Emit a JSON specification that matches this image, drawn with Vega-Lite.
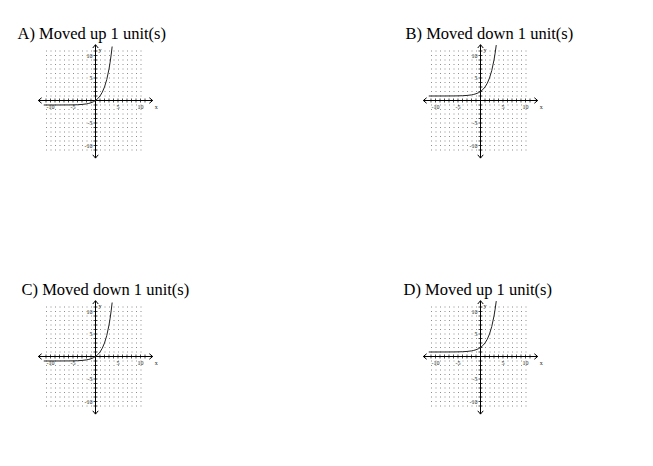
{
  "$schema": "https://vega.github.io/schema/vega-lite/v6.json",
  "padding": {"left": 17, "top": 26, "right": 0, "bottom": 0},
  "config": {
    "view": {"stroke": null},
    "mark": {"color": "#000"},
    "title": {"font": "Liberation Serif", "fontSize": 16.5, "fontWeight": "normal", "color": "#000"},
    "text": {"font": "Liberation Serif", "fontSize": 6, "fill": "#222"}
  },
  "datasets": {
    "curve": [
      {"panel": "A", "x": -11.5, "y": -1.0}, {"panel": "A", "x": -8, "y": -0.996}, {"panel": "A", "x": -6, "y": -0.984},
      {"panel": "A", "x": -5, "y": -0.969}, {"panel": "A", "x": -4, "y": -0.938}, {"panel": "A", "x": -3, "y": -0.875},
      {"panel": "A", "x": -2, "y": -0.75}, {"panel": "A", "x": -1.5, "y": -0.646}, {"panel": "A", "x": -1, "y": -0.5},
      {"panel": "A", "x": -0.5, "y": -0.293}, {"panel": "A", "x": 0, "y": 0}, {"panel": "A", "x": 0.5, "y": 0.414},
      {"panel": "A", "x": 1, "y": 1}, {"panel": "A", "x": 1.5, "y": 1.828}, {"panel": "A", "x": 2, "y": 3},
      {"panel": "A", "x": 2.5, "y": 4.657}, {"panel": "A", "x": 3, "y": 7}, {"panel": "A", "x": 3.25, "y": 8.514},
      {"panel": "A", "x": 3.5, "y": 10.314}, {"panel": "A", "x": 3.7, "y": 11.996},
      {"panel": "B", "x": -11.5, "y": 1.0}, {"panel": "B", "x": -8, "y": 1.004}, {"panel": "B", "x": -6, "y": 1.016},
      {"panel": "B", "x": -5, "y": 1.031}, {"panel": "B", "x": -4, "y": 1.063}, {"panel": "B", "x": -3, "y": 1.125},
      {"panel": "B", "x": -2, "y": 1.25}, {"panel": "B", "x": -1.5, "y": 1.354}, {"panel": "B", "x": -1, "y": 1.5},
      {"panel": "B", "x": -0.5, "y": 1.707}, {"panel": "B", "x": 0, "y": 2}, {"panel": "B", "x": 0.5, "y": 2.414},
      {"panel": "B", "x": 1, "y": 3}, {"panel": "B", "x": 1.5, "y": 3.828}, {"panel": "B", "x": 2, "y": 5},
      {"panel": "B", "x": 2.5, "y": 6.657}, {"panel": "B", "x": 3, "y": 9}, {"panel": "B", "x": 3.25, "y": 10.514},
      {"panel": "B", "x": 3.5, "y": 12.314},
      {"panel": "C", "x": -11.5, "y": -1.0}, {"panel": "C", "x": -8, "y": -0.996}, {"panel": "C", "x": -6, "y": -0.984},
      {"panel": "C", "x": -5, "y": -0.969}, {"panel": "C", "x": -4, "y": -0.938}, {"panel": "C", "x": -3, "y": -0.875},
      {"panel": "C", "x": -2, "y": -0.75}, {"panel": "C", "x": -1.5, "y": -0.646}, {"panel": "C", "x": -1, "y": -0.5},
      {"panel": "C", "x": -0.5, "y": -0.293}, {"panel": "C", "x": 0, "y": 0}, {"panel": "C", "x": 0.5, "y": 0.414},
      {"panel": "C", "x": 1, "y": 1}, {"panel": "C", "x": 1.5, "y": 1.828}, {"panel": "C", "x": 2, "y": 3},
      {"panel": "C", "x": 2.5, "y": 4.657}, {"panel": "C", "x": 3, "y": 7}, {"panel": "C", "x": 3.25, "y": 8.514},
      {"panel": "C", "x": 3.5, "y": 10.314}, {"panel": "C", "x": 3.7, "y": 11.996},
      {"panel": "D", "x": -11.5, "y": 1.0}, {"panel": "D", "x": -8, "y": 1.004}, {"panel": "D", "x": -6, "y": 1.016},
      {"panel": "D", "x": -5, "y": 1.031}, {"panel": "D", "x": -4, "y": 1.063}, {"panel": "D", "x": -3, "y": 1.125},
      {"panel": "D", "x": -2, "y": 1.25}, {"panel": "D", "x": -1.5, "y": 1.354}, {"panel": "D", "x": -1, "y": 1.5},
      {"panel": "D", "x": -0.5, "y": 1.707}, {"panel": "D", "x": 0, "y": 2}, {"panel": "D", "x": 0.5, "y": 2.414},
      {"panel": "D", "x": 1, "y": 3}, {"panel": "D", "x": 1.5, "y": 3.828}, {"panel": "D", "x": 2, "y": 5},
      {"panel": "D", "x": 2.5, "y": 6.657}, {"panel": "D", "x": 3, "y": 9}, {"panel": "D", "x": 3.25, "y": 10.514},
      {"panel": "D", "x": 3.5, "y": 12.314}
    ],
    "gridrows": [
      {"v": -11}, {"v": -10}, {"v": -9}, {"v": -8}, {"v": -7}, {"v": -6}, {"v": -5}, {"v": -4},
      {"v": -3}, {"v": -2}, {"v": -1}, {"v": 0}, {"v": 1}, {"v": 2}, {"v": 3}, {"v": 4},
      {"v": 5}, {"v": 6}, {"v": 7}, {"v": 8}, {"v": 9}, {"v": 10}, {"v": 11}
    ],
    "ticks": [
      {"v": -11}, {"v": -10}, {"v": -9}, {"v": -8}, {"v": -7}, {"v": -6}, {"v": -5}, {"v": -4},
      {"v": -3}, {"v": -2}, {"v": -1}, {"v": 1}, {"v": 2}, {"v": 3}, {"v": 4},
      {"v": 5}, {"v": 6}, {"v": 7}, {"v": 8}, {"v": 9}, {"v": 10}, {"v": 11}
    ],
    "axes": [
      {"axis": "x", "from": -12.7, "to": 12.7},
      {"axis": "y", "from": -12.8, "to": 12.4}
    ],
    "arrows": [
      {"dir": "right", "x": 12.7, "y": 0},
      {"dir": "left", "x": -12.7, "y": 0},
      {"dir": "up", "x": 0, "y": 12.4},
      {"dir": "down", "x": 0, "y": -12.8}
    ],
    "labels": [
      {"axis": "x", "v": -10, "t": "-10"}, {"axis": "x", "v": -5, "t": "-5"},
      {"axis": "x", "v": 5, "t": "5"}, {"axis": "x", "v": 10, "t": "10"},
      {"axis": "y", "v": 10, "t": "10"}, {"axis": "y", "v": 5, "t": "5"},
      {"axis": "y", "v": -5, "t": "-5"}, {"axis": "y", "v": -10, "t": "-10"},
      {"axis": "xname", "v": 12.7, "t": "x"}, {"axis": "yname", "v": 12.4, "t": "y"}
    ]
  },
  "columns": 2,
  "bounds": "flush",
  "spacing": {"row": 157, "column": 286},
  "concat": [
    {
      "title": {"text": "A) Moved up 1 unit(s)", "anchor": "start", "frame": "group", "dx": -28.5, "offset": -13, "baseline": "alphabetic"},
      "width": 99, "height": 99,
      "layer": [
        {"data": {"name": "gridrows"}, "mark": {"type": "rule", "stroke": "#8c8c8c", "strokeWidth": 1, "strokeDash": [1, 3.5]},
         "encoding": {"x": {"datum": -11, "type": "quantitative", "scale": {"domain": [-11, 11], "nice": false, "zero": false}, "axis": null}, "x2": {"datum": 11},
                      "y": {"field": "v", "type": "quantitative", "scale": {"domain": [-11, 11], "nice": false, "zero": false}, "axis": null}}},
        {"data": {"name": "axes"}, "transform": [{"filter": "datum.axis == 'x'"}], "mark": {"type": "rule", "stroke": "#000", "strokeWidth": 1},
         "encoding": {"x": {"field": "from", "type": "quantitative", "axis": null}, "x2": {"field": "to"}, "y": {"datum": 0, "axis": null}}},
        {"data": {"name": "axes"}, "transform": [{"filter": "datum.axis == 'y'"}], "mark": {"type": "rule", "stroke": "#000", "strokeWidth": 1},
         "encoding": {"y": {"field": "from", "type": "quantitative", "axis": null}, "y2": {"field": "to"}, "x": {"datum": 0, "axis": null}}},
        {"data": {"name": "ticks"}, "mark": {"type": "tick", "orient": "vertical", "color": "#000", "size": 4, "thickness": 1},
         "encoding": {"x": {"field": "v", "type": "quantitative", "axis": null}, "y": {"datum": 0, "axis": null}}},
        {"data": {"name": "ticks"}, "mark": {"type": "tick", "orient": "horizontal", "color": "#000", "size": 4, "thickness": 1},
         "encoding": {"y": {"field": "v", "type": "quantitative", "axis": null}, "x": {"datum": 0, "axis": null}}},
        {"data": {"name": "arrows"}, "mark": {"type": "point", "filled": false, "stroke": "#000", "strokeWidth": 1, "size": 30, "opacity": 1},
         "encoding": {"x": {"field": "x", "type": "quantitative", "axis": null}, "y": {"field": "y", "type": "quantitative", "axis": null},
                      "shape": {"field": "dir", "type": "nominal", "legend": null, "scale": {"domain": ["right", "left", "up", "down"], "range": ["M-1.2,-1L0,0L-1.2,1", "M1.2,-1L0,0L1.2,1", "M-1,1.2L0,0L1,1.2", "M-1,-1.2L0,0L1,-1.2"]}}}},
        {"data": {"name": "labels"}, "transform": [{"filter": "datum.axis == 'x'"}], "mark": {"type": "text", "fill": "#222", "align": "center", "baseline": "top", "dy": 3},
         "encoding": {"x": {"field": "v", "type": "quantitative", "axis": null}, "y": {"datum": 0, "axis": null}, "text": {"field": "t"}}},
        {"data": {"name": "labels"}, "transform": [{"filter": "datum.axis == 'y'"}], "mark": {"type": "text", "fill": "#222", "align": "right", "baseline": "middle", "dx": -3},
         "encoding": {"y": {"field": "v", "type": "quantitative", "axis": null}, "x": {"datum": 0, "axis": null}, "text": {"field": "t"}}},
        {"data": {"name": "labels"}, "transform": [{"filter": "datum.axis == 'xname'"}], "mark": {"type": "text", "fill": "#222", "align": "left", "baseline": "top", "dx": 2, "dy": 3},
         "encoding": {"x": {"field": "v", "type": "quantitative", "axis": null}, "y": {"datum": 0, "axis": null}, "text": {"field": "t"}}},
        {"data": {"name": "labels"}, "transform": [{"filter": "datum.axis == 'yname'"}], "mark": {"type": "text", "fill": "#222", "align": "left", "baseline": "top", "dx": 3, "dy": 2},
         "encoding": {"y": {"field": "v", "type": "quantitative", "axis": null}, "x": {"datum": 0, "axis": null}, "text": {"field": "t"}}},
        {"data": {"name": "curve"}, "transform": [{"filter": "datum.panel == 'A'"}], "mark": {"type": "line", "stroke": "#222", "strokeWidth": 1},
         "encoding": {"x": {"field": "x", "type": "quantitative", "axis": null}, "y": {"field": "y", "type": "quantitative", "axis": null}}}
      ]
    },
    {
      "title": {"text": "B) Moved down 1 unit(s)", "anchor": "start", "frame": "group", "dx": -25.5, "offset": -13, "baseline": "alphabetic"},
      "width": 99, "height": 99,
      "layer": [
        {"data": {"name": "gridrows"}, "mark": {"type": "rule", "stroke": "#8c8c8c", "strokeWidth": 1, "strokeDash": [1, 3.5]},
         "encoding": {"x": {"datum": -11, "type": "quantitative", "scale": {"domain": [-11, 11], "nice": false, "zero": false}, "axis": null}, "x2": {"datum": 11},
                      "y": {"field": "v", "type": "quantitative", "scale": {"domain": [-11, 11], "nice": false, "zero": false}, "axis": null}}},
        {"data": {"name": "axes"}, "transform": [{"filter": "datum.axis == 'x'"}], "mark": {"type": "rule", "stroke": "#000", "strokeWidth": 1},
         "encoding": {"x": {"field": "from", "type": "quantitative", "axis": null}, "x2": {"field": "to"}, "y": {"datum": 0, "axis": null}}},
        {"data": {"name": "axes"}, "transform": [{"filter": "datum.axis == 'y'"}], "mark": {"type": "rule", "stroke": "#000", "strokeWidth": 1},
         "encoding": {"y": {"field": "from", "type": "quantitative", "axis": null}, "y2": {"field": "to"}, "x": {"datum": 0, "axis": null}}},
        {"data": {"name": "ticks"}, "mark": {"type": "tick", "orient": "vertical", "color": "#000", "size": 4, "thickness": 1},
         "encoding": {"x": {"field": "v", "type": "quantitative", "axis": null}, "y": {"datum": 0, "axis": null}}},
        {"data": {"name": "ticks"}, "mark": {"type": "tick", "orient": "horizontal", "color": "#000", "size": 4, "thickness": 1},
         "encoding": {"y": {"field": "v", "type": "quantitative", "axis": null}, "x": {"datum": 0, "axis": null}}},
        {"data": {"name": "arrows"}, "mark": {"type": "point", "filled": false, "stroke": "#000", "strokeWidth": 1, "size": 30, "opacity": 1},
         "encoding": {"x": {"field": "x", "type": "quantitative", "axis": null}, "y": {"field": "y", "type": "quantitative", "axis": null},
                      "shape": {"field": "dir", "type": "nominal", "legend": null, "scale": {"domain": ["right", "left", "up", "down"], "range": ["M-1.2,-1L0,0L-1.2,1", "M1.2,-1L0,0L1.2,1", "M-1,1.2L0,0L1,1.2", "M-1,-1.2L0,0L1,-1.2"]}}}},
        {"data": {"name": "labels"}, "transform": [{"filter": "datum.axis == 'x'"}], "mark": {"type": "text", "fill": "#222", "align": "center", "baseline": "top", "dy": 3},
         "encoding": {"x": {"field": "v", "type": "quantitative", "axis": null}, "y": {"datum": 0, "axis": null}, "text": {"field": "t"}}},
        {"data": {"name": "labels"}, "transform": [{"filter": "datum.axis == 'y'"}], "mark": {"type": "text", "fill": "#222", "align": "right", "baseline": "middle", "dx": -3},
         "encoding": {"y": {"field": "v", "type": "quantitative", "axis": null}, "x": {"datum": 0, "axis": null}, "text": {"field": "t"}}},
        {"data": {"name": "labels"}, "transform": [{"filter": "datum.axis == 'xname'"}], "mark": {"type": "text", "fill": "#222", "align": "left", "baseline": "top", "dx": 2, "dy": 3},
         "encoding": {"x": {"field": "v", "type": "quantitative", "axis": null}, "y": {"datum": 0, "axis": null}, "text": {"field": "t"}}},
        {"data": {"name": "labels"}, "transform": [{"filter": "datum.axis == 'yname'"}], "mark": {"type": "text", "fill": "#222", "align": "left", "baseline": "top", "dx": 3, "dy": 2},
         "encoding": {"y": {"field": "v", "type": "quantitative", "axis": null}, "x": {"datum": 0, "axis": null}, "text": {"field": "t"}}},
        {"data": {"name": "curve"}, "transform": [{"filter": "datum.panel == 'B'"}], "mark": {"type": "line", "stroke": "#222", "strokeWidth": 1},
         "encoding": {"x": {"field": "x", "type": "quantitative", "axis": null}, "y": {"field": "y", "type": "quantitative", "axis": null}}}
      ]
    },
    {
      "title": {"text": "C) Moved down 1 unit(s)", "anchor": "start", "frame": "group", "dx": -24.5, "offset": -13, "baseline": "alphabetic"},
      "width": 99, "height": 99,
      "layer": [
        {"data": {"name": "gridrows"}, "mark": {"type": "rule", "stroke": "#8c8c8c", "strokeWidth": 1, "strokeDash": [1, 3.5]},
         "encoding": {"x": {"datum": -11, "type": "quantitative", "scale": {"domain": [-11, 11], "nice": false, "zero": false}, "axis": null}, "x2": {"datum": 11},
                      "y": {"field": "v", "type": "quantitative", "scale": {"domain": [-11, 11], "nice": false, "zero": false}, "axis": null}}},
        {"data": {"name": "axes"}, "transform": [{"filter": "datum.axis == 'x'"}], "mark": {"type": "rule", "stroke": "#000", "strokeWidth": 1},
         "encoding": {"x": {"field": "from", "type": "quantitative", "axis": null}, "x2": {"field": "to"}, "y": {"datum": 0, "axis": null}}},
        {"data": {"name": "axes"}, "transform": [{"filter": "datum.axis == 'y'"}], "mark": {"type": "rule", "stroke": "#000", "strokeWidth": 1},
         "encoding": {"y": {"field": "from", "type": "quantitative", "axis": null}, "y2": {"field": "to"}, "x": {"datum": 0, "axis": null}}},
        {"data": {"name": "ticks"}, "mark": {"type": "tick", "orient": "vertical", "color": "#000", "size": 4, "thickness": 1},
         "encoding": {"x": {"field": "v", "type": "quantitative", "axis": null}, "y": {"datum": 0, "axis": null}}},
        {"data": {"name": "ticks"}, "mark": {"type": "tick", "orient": "horizontal", "color": "#000", "size": 4, "thickness": 1},
         "encoding": {"y": {"field": "v", "type": "quantitative", "axis": null}, "x": {"datum": 0, "axis": null}}},
        {"data": {"name": "arrows"}, "mark": {"type": "point", "filled": false, "stroke": "#000", "strokeWidth": 1, "size": 30, "opacity": 1},
         "encoding": {"x": {"field": "x", "type": "quantitative", "axis": null}, "y": {"field": "y", "type": "quantitative", "axis": null},
                      "shape": {"field": "dir", "type": "nominal", "legend": null, "scale": {"domain": ["right", "left", "up", "down"], "range": ["M-1.2,-1L0,0L-1.2,1", "M1.2,-1L0,0L1.2,1", "M-1,1.2L0,0L1,1.2", "M-1,-1.2L0,0L1,-1.2"]}}}},
        {"data": {"name": "labels"}, "transform": [{"filter": "datum.axis == 'x'"}], "mark": {"type": "text", "fill": "#222", "align": "center", "baseline": "top", "dy": 3},
         "encoding": {"x": {"field": "v", "type": "quantitative", "axis": null}, "y": {"datum": 0, "axis": null}, "text": {"field": "t"}}},
        {"data": {"name": "labels"}, "transform": [{"filter": "datum.axis == 'y'"}], "mark": {"type": "text", "fill": "#222", "align": "right", "baseline": "middle", "dx": -3},
         "encoding": {"y": {"field": "v", "type": "quantitative", "axis": null}, "x": {"datum": 0, "axis": null}, "text": {"field": "t"}}},
        {"data": {"name": "labels"}, "transform": [{"filter": "datum.axis == 'xname'"}], "mark": {"type": "text", "fill": "#222", "align": "left", "baseline": "top", "dx": 2, "dy": 3},
         "encoding": {"x": {"field": "v", "type": "quantitative", "axis": null}, "y": {"datum": 0, "axis": null}, "text": {"field": "t"}}},
        {"data": {"name": "labels"}, "transform": [{"filter": "datum.axis == 'yname'"}], "mark": {"type": "text", "fill": "#222", "align": "left", "baseline": "top", "dx": 3, "dy": 2},
         "encoding": {"y": {"field": "v", "type": "quantitative", "axis": null}, "x": {"datum": 0, "axis": null}, "text": {"field": "t"}}},
        {"data": {"name": "curve"}, "transform": [{"filter": "datum.panel == 'C'"}], "mark": {"type": "line", "stroke": "#222", "strokeWidth": 1},
         "encoding": {"x": {"field": "x", "type": "quantitative", "axis": null}, "y": {"field": "y", "type": "quantitative", "axis": null}}}
      ]
    },
    {
      "title": {"text": "D) Moved up 1 unit(s)", "anchor": "start", "frame": "group", "dx": -27.5, "offset": -13, "baseline": "alphabetic"},
      "width": 99, "height": 99,
      "layer": [
        {"data": {"name": "gridrows"}, "mark": {"type": "rule", "stroke": "#8c8c8c", "strokeWidth": 1, "strokeDash": [1, 3.5]},
         "encoding": {"x": {"datum": -11, "type": "quantitative", "scale": {"domain": [-11, 11], "nice": false, "zero": false}, "axis": null}, "x2": {"datum": 11},
                      "y": {"field": "v", "type": "quantitative", "scale": {"domain": [-11, 11], "nice": false, "zero": false}, "axis": null}}},
        {"data": {"name": "axes"}, "transform": [{"filter": "datum.axis == 'x'"}], "mark": {"type": "rule", "stroke": "#000", "strokeWidth": 1},
         "encoding": {"x": {"field": "from", "type": "quantitative", "axis": null}, "x2": {"field": "to"}, "y": {"datum": 0, "axis": null}}},
        {"data": {"name": "axes"}, "transform": [{"filter": "datum.axis == 'y'"}], "mark": {"type": "rule", "stroke": "#000", "strokeWidth": 1},
         "encoding": {"y": {"field": "from", "type": "quantitative", "axis": null}, "y2": {"field": "to"}, "x": {"datum": 0, "axis": null}}},
        {"data": {"name": "ticks"}, "mark": {"type": "tick", "orient": "vertical", "color": "#000", "size": 4, "thickness": 1},
         "encoding": {"x": {"field": "v", "type": "quantitative", "axis": null}, "y": {"datum": 0, "axis": null}}},
        {"data": {"name": "ticks"}, "mark": {"type": "tick", "orient": "horizontal", "color": "#000", "size": 4, "thickness": 1},
         "encoding": {"y": {"field": "v", "type": "quantitative", "axis": null}, "x": {"datum": 0, "axis": null}}},
        {"data": {"name": "arrows"}, "mark": {"type": "point", "filled": false, "stroke": "#000", "strokeWidth": 1, "size": 30, "opacity": 1},
         "encoding": {"x": {"field": "x", "type": "quantitative", "axis": null}, "y": {"field": "y", "type": "quantitative", "axis": null},
                      "shape": {"field": "dir", "type": "nominal", "legend": null, "scale": {"domain": ["right", "left", "up", "down"], "range": ["M-1.2,-1L0,0L-1.2,1", "M1.2,-1L0,0L1.2,1", "M-1,1.2L0,0L1,1.2", "M-1,-1.2L0,0L1,-1.2"]}}}},
        {"data": {"name": "labels"}, "transform": [{"filter": "datum.axis == 'x'"}], "mark": {"type": "text", "fill": "#222", "align": "center", "baseline": "top", "dy": 3},
         "encoding": {"x": {"field": "v", "type": "quantitative", "axis": null}, "y": {"datum": 0, "axis": null}, "text": {"field": "t"}}},
        {"data": {"name": "labels"}, "transform": [{"filter": "datum.axis == 'y'"}], "mark": {"type": "text", "fill": "#222", "align": "right", "baseline": "middle", "dx": -3},
         "encoding": {"y": {"field": "v", "type": "quantitative", "axis": null}, "x": {"datum": 0, "axis": null}, "text": {"field": "t"}}},
        {"data": {"name": "labels"}, "transform": [{"filter": "datum.axis == 'xname'"}], "mark": {"type": "text", "fill": "#222", "align": "left", "baseline": "top", "dx": 2, "dy": 3},
         "encoding": {"x": {"field": "v", "type": "quantitative", "axis": null}, "y": {"datum": 0, "axis": null}, "text": {"field": "t"}}},
        {"data": {"name": "labels"}, "transform": [{"filter": "datum.axis == 'yname'"}], "mark": {"type": "text", "fill": "#222", "align": "left", "baseline": "top", "dx": 3, "dy": 2},
         "encoding": {"y": {"field": "v", "type": "quantitative", "axis": null}, "x": {"datum": 0, "axis": null}, "text": {"field": "t"}}},
        {"data": {"name": "curve"}, "transform": [{"filter": "datum.panel == 'D'"}], "mark": {"type": "line", "stroke": "#222", "strokeWidth": 1},
         "encoding": {"x": {"field": "x", "type": "quantitative", "axis": null}, "y": {"field": "y", "type": "quantitative", "axis": null}}}
      ]
    }
  ]
}
